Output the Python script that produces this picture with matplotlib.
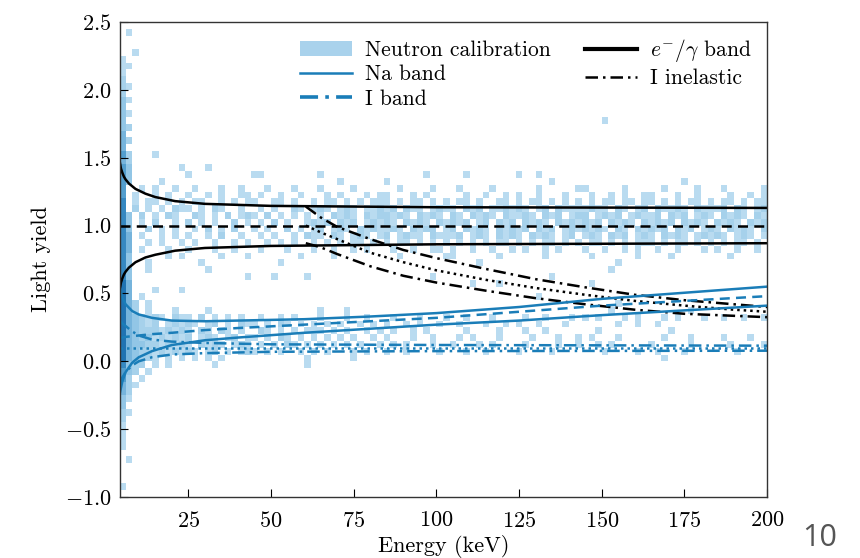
import numpy as np
import matplotlib.pyplot as plt
from matplotlib.colors import LinearSegmentedColormap
from matplotlib.patches import Patch
from matplotlib.lines import Line2D

plt.rcParams['font.family'] = 'serif'
plt.rcParams['font.serif'] = ['cmr10']
plt.rcParams['mathtext.fontset'] = 'cm'
plt.rcParams['axes.formatter.use_mathtext'] = True

# neutron calibration histogram, 2 keV x 0.05 bins
# row index r -> light yield -1 + 0.05 r, char c -> energy 4 + 2 c
x_edges = np.arange(4, 202, 2)
y_edges = np.linspace(-1.0, 2.5, 71)
hist_rows = {
    68: ".1",
    65: "..1",
    64: "1",
    63: "11",
    62: "1",
    61: "2",
    60: "21",
    59: "2",
    58: "31",
    57: "3",
    56: "31",
    55: "3......... .......... .......... .......... .......... .......... .......... ...1",
    54: "32",
    53: "4",
    52: "42",
    51: "4",
    50: "52...1",
    49: "42",
    48: "53.......1 ...1",
    47: "53........ 1.........11 ........1. .......... ....1..... 1.......1. .1",
    46: "53....1... .......... .......... ...1...... 1......... .......... .....1.... .......... .....1",
    45: "5..1.1..1. .1...1..1. ..1...1... 1....1.... ..1....1.. .1....1... ...1.....1 1.....1... ..1....1.. .1.....1",
    44: "5.1..1.1.. 1..1.1..11 .1..1..1.. .1.1...1.1 1...1.1... ..1..1..1. 1..1...1.. .1..1.1..1 1...1..1.. ..1..1.1",
    43: "6.1.11.1.1 .11..1.1.1 1..11.1..1 .11.1.1.11 1.1.11.1.1 .11.1..11. 1.11.1.1.1 .1.11.11.1 1.1.1.11.1 .11.1.11",
    42: "6.2.1.1.21 1.1.21..1. .1.1..21.1 21.121.112 12.211.121 1.212.1121 21.12.2111 1211.21.12 .21121.211 12.21.12",
    41: "63.2.1.21. .21.1.2.12 1.2.1.1.1. 1.2121.212 2121.2121. 21.2121.21 121.212.12 2.1212.121 12.212.121 .2121.21",
    40: "63.1.2..1. 2.1.1..2.1 .1.2.1..12 12.212.121 21.2121.21 212.12.212 .2121.2121 212.2121.2 1212.2121. 2121.212",
    39: "63..2.1.1. .1.2.1.2.. 1.1..2.1.1 2.121.2121 121.2122.1 2.2121.212 12.212.121 2121.21.21 212.212.12 1.2121.2",
    38: "64.1..1.1. 1..1.2..1. .1.1..1.21 1.21.121.1 2.1211.211 12.121.212 1.2121.12. 121.212.12 1.2121.121 21.121.1",
    37: "64..1.1..1 .1..1..1.1 ..1.1.1..1 .1.1.11.1. 1.11.1.1.1 .1.1.1.11. 1.1.11.1.1 .11.1.1.11 1.1.11.1.1 .1.11.1.",
    36: "64.1...1.. 1...1..1.. .1...1...1 ..1..1.1.. .1..1..11. 1..1..1..1 .1..1.1... 1..1..1.1. .1..1...1. 1..1..1.",
    35: "63.....1.1 .....1...1 .......1.. ..1....... ..1......1 1......1.. ....1..... .1......1. ...1...... ..1.....",
    34: "63..1..... ..1....... ....1..... .......... .......... ....1..... .......... .....1....",
    33: "63..1..... ...1...... .......... .......... .......... .......... .......... ....1.....",
    32: "63........ .........1 ...1....1. .......... .......1.. .......... .....1....",
    31: "74........ .......... .......... .......... .......... ...1...1.. .......... .1........",
    30: "74...1...1",
    29: "74.1...... .......... .......... .......... .......... .......... ...1......",
    28: "742.1..... .......... .......... .......... .......... .......... .......... .....1....",
    27: "742.1...1. ...1...... .......... 1...1..... .......... .......... .......... ....1..... ......1...",
    26: "7432121.21 1.2.1.1.1. .1..1.1... 1...1..1.. .1...1...1 ..1...1... .1..1...1. 1.1...1.1. ..1.1...1. .1..1..1",
    25: "743212.121 21.12.1.21 1.1.21.1.1 .1.1..1.1. 1..1.1..1. .1...1..1. 1..1...1.. .....1..1. .1........",
    24: "7432221212 1.21.21.1. .21.1.1.11 1.1.1..1.1 .1..1.1... ..1....1.. .1..1..... ..1....... ...1......",
    23: "7432312121 2.121.12.1 1.1.21.1.1 .1.1.1..1. 1...1..1.. .1.1...1.. ..1...1..1 .1...1.... ..1...1... .1...1..",
    22: "7433221212 1.2121.121 .1.1.21.1. 1.1.1.1..1 .1.1...1.. 1...1.1... .1....1..1 ..1.1..... 1.....1... ..1....1",
    21: "7432212121 21.12.1.12 1.1.1..1.1 .1...1.1.. 1..1....1. ..1..1.... 1....1.... ...1....1. .1...1.... ...1....",
    20: "743221.1.1 .1.1.1.... ........1. .....1.... .......... .......... .......... .......... ..1.......",
    19: "6322.1.1.. ....1..... ........1.",
    18: "532.1.....",
    17: "52.1",
    16: "421",
    15: "42",
    14: "31",
    13: "3",
    12: "21",
    11: "2",
    10: "1",
    9: "1",
    8: "1",
    7: "1",
    5: ".1",
    1: "1",
}

# e-/gamma band
eg_E = [4.3, 4.6, 5, 5.5, 6, 7, 9, 12, 15, 21, 30, 50, 100, 200]
eg_hi = [1.46, 1.42, 1.39, 1.36, 1.34, 1.31, 1.27, 1.235, 1.21, 1.18, 1.16, 1.145, 1.135, 1.13]
eg_mid = [1.0] * len(eg_E)
eg_lo = [0.54, 0.58, 0.61, 0.64, 0.66, 0.69, 0.73, 0.765, 0.785, 0.815, 0.835, 0.85, 0.862, 0.87]

# I inelastic band
ii_E = [60.5, 65, 70, 80, 90, 100, 115, 130, 145, 160, 175, 190, 200]
ii_hi = [1.14, 1.06, 0.99, 0.90, 0.82, 0.76, 0.68, 0.605, 0.545, 0.49, 0.45, 0.42, 0.40]
ii_mid = [1.00, 0.95, 0.90, 0.80, 0.73, 0.67, 0.60, 0.54, 0.49, 0.445, 0.41, 0.38, 0.365]
ii_lo = [0.87, 0.84, 0.79, 0.70, 0.63, 0.58, 0.52, 0.465, 0.42, 0.38, 0.35, 0.335, 0.325]

# Na band
na_E = [4.3, 5, 6, 8, 10, 14, 20, 30, 40, 60, 80, 100, 125, 150, 175, 200]
na_hi = [0.54, 0.47, 0.42, 0.37, 0.345, 0.32, 0.30, 0.295, 0.30, 0.31, 0.33, 0.355, 0.40, 0.46, 0.505, 0.55]
na_mid = [0.17, 0.175, 0.18, 0.185, 0.19, 0.20, 0.21, 0.23, 0.245, 0.27, 0.295, 0.32, 0.365, 0.41, 0.445, 0.48]
na_lo = [-0.23, -0.15, -0.08, -0.01, 0.03, 0.075, 0.12, 0.155, 0.175, 0.21, 0.24, 0.27, 0.30, 0.34, 0.375, 0.41]

# I band
ib_E = [4.3, 5, 6, 8, 10, 14, 20, 30, 50, 100, 200]
ib_hi = [0.30, 0.28, 0.26, 0.22, 0.19, 0.16, 0.145, 0.135, 0.125, 0.12, 0.115]
ib_mid = [0.095] * len(ib_E)
ib_lo = [-0.17, -0.12, -0.08, -0.03, 0.0, 0.03, 0.05, 0.06, 0.07, 0.075, 0.078]

ncol = len(x_edges) - 1
counts = np.zeros((len(y_edges) - 1, ncol))
for r, s in hist_rows.items():
    s = s.replace(' ', '').ljust(ncol, '.')[:ncol]
    counts[r] = [0 if ch == '.' else int(ch) for ch in s]

blue = '#1a7db8'
cmap = LinearSegmentedColormap.from_list('nc', ['#b9dbf0', '#8cc3e4', '#3d8fc6', '#0b5fa3'])

fig = plt.figure(figsize=(8.6, 5.58), dpi=100)
ax = fig.add_axes([0.1395, 0.1093, 0.7525, 0.8513])

ax.pcolormesh(x_edges, y_edges, np.ma.masked_equal(counts, 0), cmap=cmap, vmin=1, vmax=8)

lw = 1.8
ax.plot(eg_E, eg_hi, color='k', lw=lw)
ax.plot(eg_E, eg_lo, color='k', lw=lw)
ax.plot(eg_E, eg_mid, color='k', lw=lw, dashes=(4, 2.5))

ax.plot(ii_E, ii_hi, color='k', lw=lw, dashes=(5, 2, 1, 2))
ax.plot(ii_E, ii_mid, color='k', lw=lw, dashes=(1, 1.6))
ax.plot(ii_E, ii_lo, color='k', lw=lw, dashes=(5, 2, 1, 2))

ax.plot(na_E, na_hi, color=blue, lw=lw)
ax.plot(na_E, na_lo, color=blue, lw=lw)
ax.plot(na_E, na_mid, color=blue, lw=lw, dashes=(4, 2.5))

ax.plot(ib_E, ib_hi, color=blue, lw=lw, dashes=(5, 2, 1, 2))
ax.plot(ib_E, ib_mid, color=blue, lw=lw, dashes=(1, 1.6))
ax.plot(ib_E, ib_lo, color=blue, lw=lw, dashes=(5, 2, 1, 2))

ax.set_xlim(4.3, 200)
ax.set_ylim(-1.0, 2.5)
ax.set_xticks([25, 50, 75, 100, 125, 150, 175, 200])
ax.set_yticks(np.arange(-1.0, 2.51, 0.5))
ax.yaxis.set_major_formatter(plt.FuncFormatter(lambda v, p: f'${v:.1f}$'))
ax.tick_params(direction='in', length=6, labelsize=16, top=False, right=False)
ax.tick_params(axis='x', pad=10)
ax.tick_params(axis='y', pad=6)
ax.set_xlabel('Energy (keV)', fontsize=16, labelpad=3)
ax.set_ylabel('Light yield', fontsize=16, labelpad=10)
for s in ax.spines.values():
    s.set_linewidth(1.0)
    s.set_color('#333333')

handles = [
    Patch(facecolor='#a9d2ec', edgecolor='none', label='Neutron calibration'),
    Line2D([], [], color=blue, lw=lw, label='Na band'),
    Line2D([], [], color=blue, lw=lw + 0.8, dashes=(5, 2, 1, 2), label='I band'),
    Line2D([], [], color='k', lw=lw + 1.2, label=r'$e^{-}/\gamma$ band'),
    Line2D([], [], color='k', lw=lw, dashes=(5, 2, 1, 2), label='I inelastic'),
]
ax.legend(handles=handles, ncol=2, loc='upper right', bbox_to_anchor=(1.006, 1.009),
          frameon=False, fontsize=15.5, handlelength=2.4, columnspacing=1.6,
          labelspacing=0.22, handletextpad=0.6)

fig.text(0.953, 0.022, '10', fontsize=22, color='#555555', family='Open Sans',
         ha='center', va='baseline')

fig.savefig('out.png', dpi=100)
